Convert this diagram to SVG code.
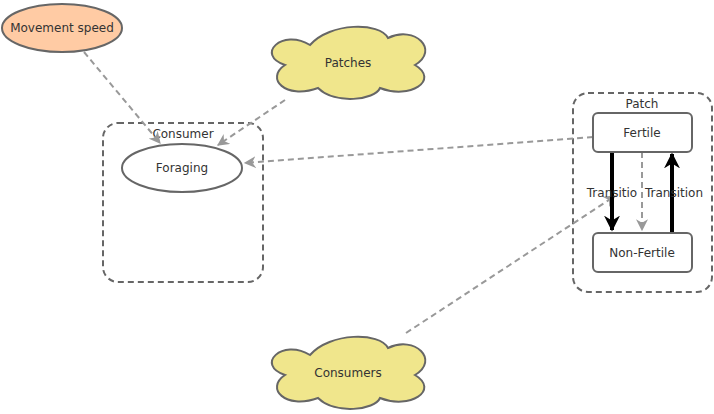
<svg xmlns="http://www.w3.org/2000/svg" width="714" height="414" viewBox="0 0 714 414">
<defs>
<style>
text{font-family:"Comic Sans MS","DejaVu Sans",sans-serif;font-size:12px;fill:#333;text-anchor:middle}
.grp{fill:none;stroke:#666;stroke-width:2;stroke-dasharray:6 4}
.node{fill:#fff;stroke:#666;stroke-width:2}
.cloud{fill:#f0e68c;stroke:#666;stroke-width:2}
.dash{fill:none;stroke:#999;stroke-width:2;stroke-dasharray:6 4}
.bold{fill:none;stroke:#000;stroke-width:4}
</style>
<marker id="ga" viewBox="0 0 10 10" refX="9" refY="5" markerWidth="5" markerHeight="5" orient="auto" markerUnits="userSpaceOnUse"><path d="M0,0 L10,5 L0,10 L3,5Z" fill="#999"/></marker>
<marker id="ba" viewBox="0 0 10 10" refX="9" refY="5" markerWidth="16" markerHeight="16" orient="auto" markerUnits="userSpaceOnUse"><path d="M0,0 L10,5 L0,10 L3,5Z" fill="#000"/></marker>
<marker id="gam" viewBox="0 0 10 10" refX="9" refY="5" markerWidth="12" markerHeight="12" orient="auto" markerUnits="userSpaceOnUse"><path d="M0,0 L10,5 L0,10 L3,5Z" fill="#999"/></marker>
</defs>
<g id="consumer-group"><rect class="grp" x="103" y="123" width="160" height="159" rx="15"/><text x="183" y="138">Consumer</text></g>
<g id="patch-group"><rect class="grp" x="573" y="93" width="139" height="199" rx="15"/><text x="642" y="108">Patch</text></g>
<g id="connectors">
<path class="dash" d="M84,52 L160,143" marker-end="url(#gam)"/>
<path class="dash" d="M285,100 L218,145" marker-end="url(#gam)"/>
<path class="dash" d="M593,137 L245,163" marker-end="url(#gam)"/>
<path class="dash" d="M642,152 L642,230" marker-end="url(#gam)"/>
<path class="dash" d="M406,333 L615,196" marker-end="url(#gam)"/>
<path class="bold" d="M612,152 L612,230" marker-end="url(#ba)"/>
<path class="bold" d="M672,232 L672,154" marker-end="url(#ba)"/>
<text x="612" y="197" style="font-size:12px">Transitio</text>
<text x="674" y="197">Transition</text>
</g>
<g id="movement-speed"><ellipse cx="62" cy="28" rx="60" ry="24" fill="#ffcba4" stroke="#666" stroke-width="2"/><text x="62" y="32">Movement speed</text></g>
<g id="foraging"><ellipse class="node" cx="182" cy="168" rx="60" ry="24"/><text x="182" y="172">Foraging</text></g>
<g id="fertile"><rect class="node" x="593" y="113" width="99" height="39" rx="5"/><text x="642" y="137">Fertile</text></g>
<g id="non-fertile"><rect class="node" x="593" y="233" width="99" height="39" rx="5"/><text x="642" y="257">Non-Fertile</text></g>
<g id="patches"><path class="cloud" d="M310,45 C282,28 255,55 285,65 C265,78 285,100 318,88 C335,105 375,100 380,88 C410,100 440,80 415,65 C440,50 415,25 388,38 C380,22 330,22 310,45Z"/><text x="348" y="67">Patches</text></g>
<g id="consumers"><path class="cloud" d="M310,355 C282,338 255,365 285,375 C265,388 285,410 318,398 C335,415 375,410 380,398 C410,410 440,390 415,375 C440,360 415,335 388,348 C380,332 330,332 310,355Z"/><text x="348" y="377">Consumers</text></g>
</svg>
